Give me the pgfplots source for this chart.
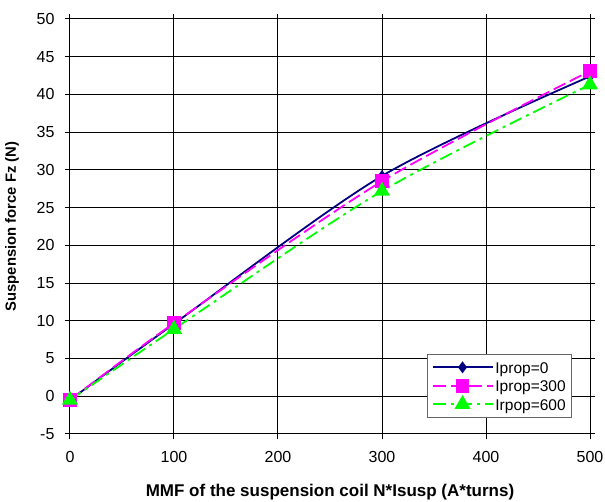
\documentclass[border=0pt]{standalone}
\usepackage{pgfplots}
\pgfplotsset{compat=1.18}
\usepackage{fontspec}
\setmainfont{Liberation Sans}
\definecolor{navy}{HTML}{000080}
\definecolor{mag}{HTML}{FF00FF}
\definecolor{lgreen}{HTML}{00FF00}
\newcommand{\lstrut}{\rule[-5pt]{0pt}{18pt}}
\begin{document}
\begin{tikzpicture}
\useasboundingbox (-70pt,-68pt) rectangle (535pt,434pt);
\begin{axis}[
  scale only axis,
  width=520pt, height=415pt,
  xmin=0, xmax=500, ymin=-5, ymax=50,
  xtick={0,100,...,500}, ytick={-5,0,...,50},
  grid=major,
  grid style={black, line width=1pt},
  axis line style={black, line width=1pt},
  tick style={black, line width=1pt},
  tick align=outside,
  major tick length=5pt,
  /pgf/number format/assume math mode=true,
  ticklabel style={font=\fontsize{16}{18}\selectfont},
  xticklabel style={yshift=-9pt},
  yticklabel style={xshift=-7pt},
  xlabel={\bfseries MMF of the suspension coil N*Isusp (A*turns)},
  ylabel={\bfseries Suspension force Fz (N)},
  xlabel style={font=\fontsize{17}{19}\selectfont, at={(axis description cs:0.5,0)}, anchor=center, yshift=-58pt},
  ylabel style={font=\fontsize{14.8}{16}\selectfont, at={(axis description cs:0,0.5)}, anchor=center, yshift=58pt},
  legend cell align=left,
  legend style={at={(0.687,0.0386)}, anchor=south west, draw=black!60, line width=0.8pt,
    font=\fontsize{15.5}{17}\selectfont, inner sep=4pt},
  legend image code/.code={\draw[mark repeat=2,mark phase=2] plot coordinates {(0pt,0pt)(30pt,0pt)(60pt,0pt)};},
]
\addplot[navy, line width=1.8pt, smooth, mark=diamond*, mark size=4.5pt, mark options={solid}]
  coordinates {(0,-0.5) (100,9.6) (300,29.2) (500,42.4)};
\addlegendentry{\lstrut Iprop=0}
\addplot[mag, line width=1.8pt, smooth, dash pattern=on 13pt off 5pt, mark=square*, mark size=6pt, mark options={solid}]
  coordinates {(0,-0.5) (100,9.7) (300,28.5) (500,43.1)};
\addlegendentry{\lstrut Iprop=300}
\addplot[lgreen, line width=1.8pt, smooth, dash pattern=on 13pt off 5pt on 3pt off 5pt, mark=triangle*, mark size=7.5pt, mark options={solid}]
  coordinates {(0,-0.5) (100,8.9) (300,27.2) (500,41.3)};
\addlegendentry{\lstrut Irpop=600}
\end{axis}
\end{tikzpicture}
\end{document}
